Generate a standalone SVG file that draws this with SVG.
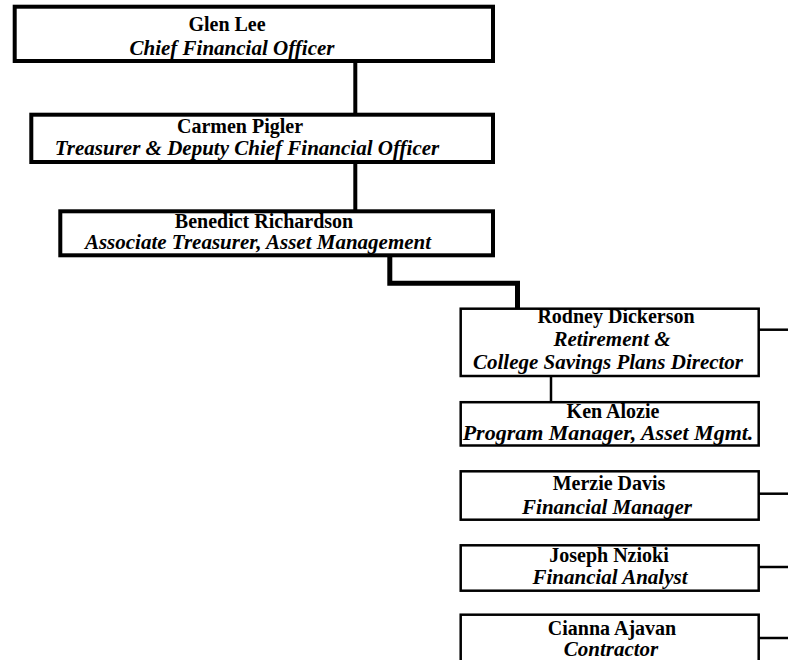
<svg xmlns="http://www.w3.org/2000/svg" width="788" height="660" viewBox="0 0 788 660">
<style>
.bx{fill:#fff;stroke:#000}
.thick{stroke-width:4}
.thin{stroke-width:2.5}
.n{font-family:"Liberation Serif","Times New Roman",serif;font-weight:bold;font-size:20px;text-anchor:middle;fill:#000}
.t{font-family:"Liberation Serif","Times New Roman",serif;font-weight:bold;font-style:italic;font-size:21px;text-anchor:middle;fill:#000}
.c{fill:none;stroke:#000;stroke-linecap:butt;stroke-linejoin:miter}
</style>
<rect width="788" height="660" fill="#fff"/>
<g id="connectors">
<line class="c" x1="355.3" y1="61" x2="355.3" y2="115" stroke-width="4"/>
<line class="c" x1="355.3" y1="162" x2="355.3" y2="212" stroke-width="4"/>
<polyline class="c" points="389.8,255 389.8,283.2 517.5,283.2 517.5,308.5" stroke-width="5"/>
<line class="c" x1="551" y1="376" x2="551" y2="402" stroke-width="2.5"/>
<line class="c" x1="758.7" y1="329.7" x2="788" y2="329.7" stroke-width="2.5"/>
<line class="c" x1="758.7" y1="493.7" x2="788" y2="493.7" stroke-width="2.5"/>
<line class="c" x1="758.7" y1="567" x2="788" y2="567" stroke-width="2.5"/>
<line class="c" x1="758.7" y1="638" x2="788" y2="638" stroke-width="2.5"/>
</g>
<g id="glen">
<rect class="bx thick" x="14.7" y="6.7" width="478.3" height="54.3"/>
<text class="n" x="227" y="31">Glen Lee</text>
<text class="t" x="232" y="55">Chief Financial Officer</text>
</g>
<g id="carmen">
<rect class="bx thick" x="31.3" y="114.7" width="461.7" height="47.3"/>
<text class="n" x="240" y="133">Carmen Pigler</text>
<text class="t" x="247" y="155">Treasurer &amp; Deputy Chief Financial Officer</text>
</g>
<g id="benedict">
<rect class="bx thick" x="60.3" y="211.3" width="432.7" height="44"/>
<text class="n" x="264" y="228">Benedict Richardson</text>
<text class="t" x="258" y="249">Associate Treasurer, Asset Management</text>
</g>
<g id="rodney">
<rect class="bx thin" x="460.7" y="308.7" width="298" height="67.3"/>
<text class="n" x="616" y="323">Rodney Dickerson</text>
<text class="t" x="612" y="346">Retirement &amp;</text>
<text class="t" x="608" y="369">College Savings Plans Director</text>
</g>
<g id="ken">
<rect class="bx thin" x="460.7" y="402.2" width="298" height="43.3"/>
<text class="n" x="613" y="418">Ken Alozie</text>
<text class="t" x="608" y="440" style="font-size:22px">Program Manager, Asset Mgmt.</text>
</g>
<g id="merzie">
<rect class="bx thin" x="460.7" y="471.3" width="298" height="48.4"/>
<text class="n" x="609" y="490">Merzie Davis</text>
<text class="t" x="607" y="514">Financial Manager</text>
</g>
<g id="joseph">
<rect class="bx thin" x="460.7" y="545.3" width="298" height="45.4"/>
<text class="n" x="609" y="562">Joseph Nzioki</text>
<text class="t" x="610" y="584">Financial Analyst</text>
</g>
<g id="cianna">
<rect class="bx thin" x="460.7" y="614.7" width="298" height="60"/>
<text class="n" x="612" y="635">Cianna Ajavan</text>
<text class="t" x="611" y="656">Contractor</text>
</g>
</svg>
